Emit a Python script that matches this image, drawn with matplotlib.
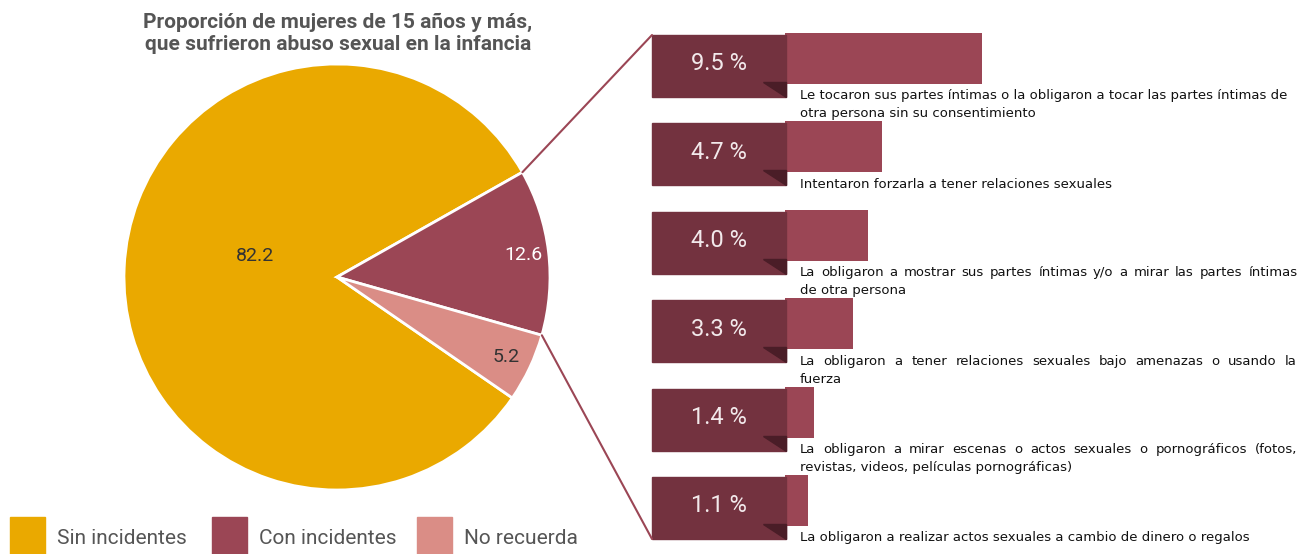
import numpy as np
import matplotlib
matplotlib.use('Agg')
import matplotlib.pyplot as plt
from matplotlib.patches import Rectangle, Polygon, ConnectionPatch

# --- DATOS ---
categorias = ['Sin incidentes', 'Con incidentes', 'No recuerda']
porcentajes = [82.2, 12.6, 5.2]

tipos_abuso = [
    'Le tocaron sus partes íntimas o la obligaron a tocar las partes íntimas de\notra persona sin su consentimiento',
    'Intentaron forzarla a tener relaciones sexuales',
    'La obligaron a mostrar sus partes íntimas y/o a mirar las partes íntimas\nde otra persona',
    'La obligaron a tener relaciones sexuales bajo amenazas o usando la\nfuerza',
    'La obligaron a mirar escenas o actos sexuales o pornográficos (fotos,\nrevistas, videos, películas pornográficas)',
    'La obligaron a realizar actos sexuales a cambio de dinero o regalos',
]
valores_abuso = [9.5, 4.7, 4.0, 3.3, 1.4, 1.1]

titulo = 'Proporción de mujeres de 15 años y más,\nque sufrieron abuso sexual en la infancia'

# --- ESTILO ---
colores_pie = ['#EAA900', '#9B4655', '#DA8D86']
color_barra = '#9B4655'
color_caja = '#73323F'
color_pliegue = '#4A1D27'
gris = '#555555'
fuente = 'Roboto'

W, H = 1304, 554
fig = plt.figure(figsize=(W / 100, H / 100), dpi=100)

# Barras (eje x en %)
px_por_pct = 20.7
x0_barra = 785
ax_bar = fig.add_axes([x0_barra / W, 0, (W - x0_barra) / W, 1])
ax_bar.set_xlim(0, (W - x0_barra) / px_por_pct)
ax_bar.set_ylim(H, 0)
ax_bar.axis('off')

filas_top = 35 + 88.4 * np.arange(len(valores_abuso))
ax_bar.barh(filas_top + 23.5, valores_abuso, height=51, left=0, color=color_barra)

# Pastel
radio_px = 213
cx, cy = 337, 277
ax_pie = fig.add_axes([(cx - radio_px) / W, (H - cy - radio_px) / H,
                       2 * radio_px / W, 2 * radio_px / H])
wedges, _ = ax_pie.pie(porcentajes, colors=colores_pie, startangle=325.4,
                       counterclock=False,
                       wedgeprops=dict(edgecolor='white', linewidth=2))
ax_pie.set_xlim(-1, 1)
ax_pie.set_ylim(-1, 1)
ax_pie.set_aspect('equal')
ax_pie.axis('off')

# etiquetas del pastel
colores_txt = ['#333333', 'white', '#333333']
for i, w in enumerate(wedges):
    if i == 0:
        xt, yt = -0.385, 0.10
    else:
        ang = np.deg2rad((w.theta1 + w.theta2) / 2)
        xt, yt = 0.88 * np.cos(ang), 0.88 * np.sin(ang)
    ax_pie.text(xt, yt, f'{porcentajes[i]:.1f}', ha='center', va='center',
                fontsize=14, color=colores_txt[i], family=fuente)

# Capa superior en pixeles
ax = fig.add_axes([0, 0, 1, 1])
ax.set_xlim(0, W)
ax.set_ylim(H, 0)
ax.axis('off')

ax.text(338, 33, titulo, ha='center', va='center', fontsize=15,
        fontweight='bold', color=gris, family=fuente, linespacing=1.2)

renderer = fig.canvas.get_renderer()
estilo_desc = dict(ha='left', va='center', fontsize=9.5, color='#111111',
                   family='DejaVu Sans')


def ancho_texto(s):
    t = ax.text(0, 0, s, **estilo_desc)
    a = t.get_window_extent(renderer).width
    t.remove()
    return a


def texto_justificado(x, y, texto, ancho, interlinea=18):
    # justifica todas las lineas menos la ultima
    lineas = texto.split('\n')
    for k, linea in enumerate(lineas):
        yk = y + k * interlinea
        palabras = linea.split(' ')
        extra = 0
        if k < len(lineas) - 1 and len(palabras) > 1:
            extra = (ancho - ancho_texto(linea)) / (len(palabras) - 1)
        if extra < 1.5:
            ax.text(x, yk, linea, **estilo_desc)
            continue
        for i, p in enumerate(palabras):
            inicio = ancho_texto(' '.join(palabras[:i + 1])) - ancho_texto(p)
            ax.text(x + inicio + i * extra, yk, p, **estilo_desc)


for top, v, desc in zip(filas_top, valores_abuso, tipos_abuso):
    ax.add_patch(Rectangle((652, top), 134, 62, color=color_caja, zorder=3))
    ax.add_patch(Polygon([(763, top + 47), (786, top + 47), (786, top + 62)],
                         closed=True, color=color_pliegue, zorder=4))
    ax.text(719, top + 29, f'{v:.1f} %', ha='center', va='center', fontsize=17,
            color='#F2E9EB', family=fuente, zorder=5)
    texto_justificado(800, top + 61, desc, 497)

# lineas de conexion desde la rebanada "Con incidentes"
w_con = wedges[1]
for ang, destino in [(w_con.theta2, (652, filas_top[0])),
                     (w_con.theta1, (652, filas_top[-1] + 62))]:
    a = np.deg2rad(ang)
    con = ConnectionPatch(xyA=(np.cos(a), np.sin(a)), coordsA=ax_pie.transData,
                          xyB=destino, coordsB=ax.transData,
                          color=color_barra, lw=1.5)
    fig.add_artist(con)

# Leyenda
leyenda_x = [10, 212, 417]
for x, nombre, c in zip(leyenda_x, categorias, colores_pie):
    ax.add_patch(Rectangle((x, 517), 35, 40, color=c, clip_on=False))
    ax.text(x + 47, 539, nombre, ha='left', va='center', fontsize=15,
            color=gris, family=fuente)

fig.savefig('out.png', dpi=100)
